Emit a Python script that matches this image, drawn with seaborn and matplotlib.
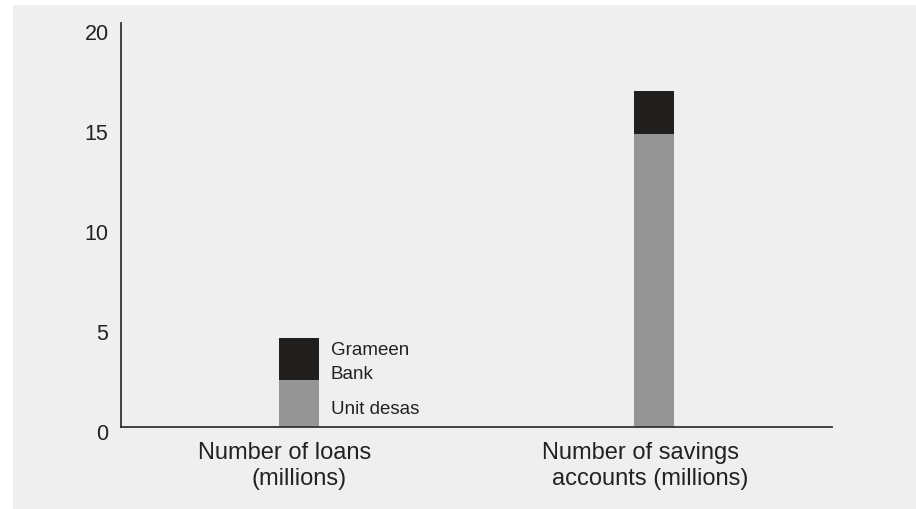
import matplotlib
matplotlib.use("Agg")
import matplotlib.pyplot as plt
import matplotlib.transforms as mtransforms
import seaborn as sns
import pandas as pd
from matplotlib.patches import Rectangle

# values (millions)
categories = ["loans", "savings"]
unit_desas = [2.35, 14.65]
grameen = [2.1, 2.15]
label_line1 = ["Number of loans", "Number of savings"]
label_line2 = ["(millions)", "accounts (millions)"]

sns.set_style("white")
plt.rcParams['font.family'] = ['Liberation Sans', 'DejaVu Sans']

bg = '#efefef'
gray = '#959595'
black = '#201f1d'
txt = '#222222'

df = pd.DataFrame({"cat": categories, "unit": unit_desas,
                   "total": [u + g for u, g in zip(unit_desas, grameen)]})

fig = plt.figure(figsize=(9.16, 5.10), dpi=100)
fig.patch.set_facecolor('white')
fig.patches.append(Rectangle((13 / 916, 0), 1, 1 - 6 / 510, transform=fig.transFigure,
                             facecolor=bg, edgecolor='none', zorder=-10))
ax = fig.add_axes([121 / 916, 1 - 428 / 510, (832 - 121) / 916, (428 - 24) / 510])
ax.patch.set_alpha(0)

# total as the dark bar, unit desas overlaid in grey
sns.barplot(data=df, x="cat", y="total", color=black, width=0.113,
            saturation=1, linewidth=0, ax=ax)
sns.barplot(data=df, x="cat", y="unit", color=gray, width=0.113,
            saturation=1, linewidth=0, ax=ax)

ax.set_xlim(-0.5, 1.5)
ax.set_ylim(0, 20.2)
ax.set_yticks([0, 5, 10, 15, 20])
ax.tick_params(axis='y', length=0, labelsize=15.5, colors=txt, pad=9)
# tick labels sit a few pixels below their value in the original
nudge = mtransforms.ScaledTranslation(0, -4 / 100, fig.dpi_scale_trans)
for lbl in ax.get_yticklabels():
    lbl.set_transform(lbl.get_transform() + nudge)
ax.set_xticks([])
ax.set_xlabel("")
ax.set_ylabel("")
sns.despine(ax=ax)
for s in ['left', 'bottom']:
    ax.spines[s].set_color('#333333')
    ax.spines[s].set_linewidth(1.3)

# category labels, two lines each (lines are not quite centred on each other)
xt = ax.get_xaxis_transform()
shift1 = [-0.04, -0.04]
shift2 = [0.0, -0.011]
for i in range(len(categories)):
    ax.text(i + shift1[i], -31 / 404, label_line1[i], transform=xt,
            ha='center', va='baseline', fontsize=17, color=txt)
    ax.text(i + shift2[i], -57 / 404, label_line2[i], transform=xt,
            ha='center', va='baseline', fontsize=17, color=txt)

# inline legend next to first bar
ax.text(0.09, 3.65, "Grameen", ha='left', va='baseline', fontsize=13.5, color=txt)
ax.text(0.09, 2.45, "Bank", ha='left', va='baseline', fontsize=13.5, color=txt)
ax.text(0.09, 0.7, "Unit desas", ha='left', va='baseline', fontsize=13.5, color=txt)

fig.savefig("out.png", dpi=100, facecolor=fig.get_facecolor())
